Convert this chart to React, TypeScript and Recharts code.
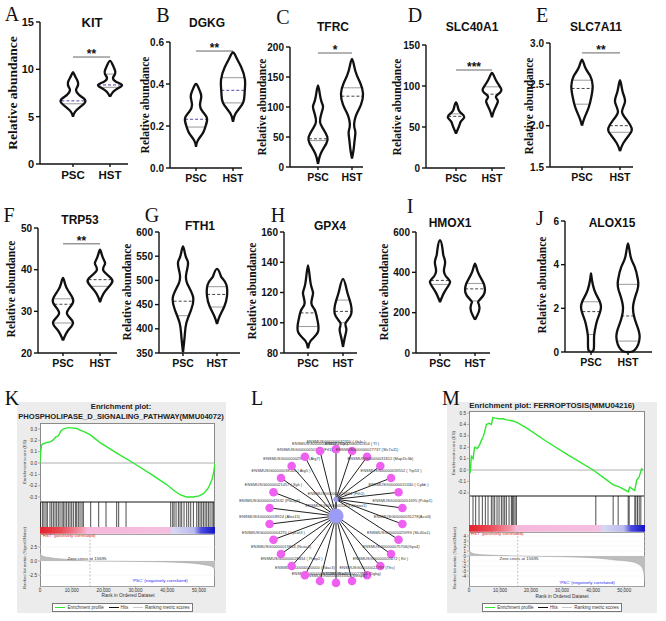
import React from "react";
import {
  ComposedChart,
  Scatter,
  XAxis,
  YAxis,
  ReferenceLine,
  ReferenceDot,
  ReferenceArea,
  LineChart,
  Line,
  AreaChart,
  Area,
  ScatterChart,
  CartesianGrid,
} from "recharts";

const SANS = "'Liberation Sans', Arial, sans-serif";
const SERIF = "'Liberation Serif', 'Times New Roman', serif";
const GROUPS = ["PSC", "HST"];

// violin outlines: [value, relative density] from bottom tip to top tip
type Pt = [number, number];

const KIT_PSC: Pt[] = [[5.0, 0], [5.5, 0.17], [6.0, 0.58], [6.5, 1], [6.9, 0.92], [7.3, 0.5], [7.8, 0.25], [8.2, 0.38], [8.6, 0.42], [9.0, 0.29], [9.4, 0.13], [9.7, 0]];
const KIT_HST: Pt[] = [[7.1, 0], [7.6, 0.25], [8.0, 0.67], [8.35, 1], [8.7, 0.5], [9.1, 0.25], [9.5, 0.42], [9.9, 0.42], [10.4, 0.25], [10.9, 0]];
const KIT_MEDIAN = [6.67, 8.35];
const KIT_QUART = [[6.36], [8.1, 9.5]];

const DGKG_PSC: Pt[] = [[0.1, 0], [0.13, 0.14], [0.165, 0.56], [0.196, 0.78], [0.235, 0.92], [0.268, 0.56], [0.3, 0.33], [0.34, 0.44], [0.372, 0.28], [0.4, 0]];
const DGKG_HST: Pt[] = [[0.22, 0], [0.26, 0.22], [0.31, 0.83], [0.36, 0.97], [0.42, 1], [0.48, 0.69], [0.52, 0.33], [0.55, 0]];
const DGKG_MEDIAN = [0.232, 0.37];
const DGKG_QUART = [[0.195], [0.31, 0.43]];

const TFRC_PSC: Pt[] = [[5, 0], [22, 0.22], [39, 0.69], [50, 0.78], [64, 0.42], [75, 0.17], [89, 0.28], [101, 0.42], [114, 0.22], [136, 0]];
const TFRC_HST: Pt[] = [[14, 0], [30, 0.14], [45, 0.22], [58, 0.28], [67, 0.19], [78, 0.22], [90, 0.42], [104, 0.75], [122, 0.92], [140, 0.69], [160, 0.28], [180, 0]];
const TFRC_MEDIAN = [47, 118];
const TFRC_QUART = [[44], [132]];

const SLC40A1_PSC: Pt[] = [[42, 0], [47, 0.14], [52, 0.28], [57, 0.42], [62, 0.69], [66, 0.5], [70, 0.25], [75, 0.14], [80, 0]];
const SLC40A1_HST: Pt[] = [[62, 0], [70, 0.17], [78, 0.42], [83, 0.47], [87, 0.33], [92, 0.67], [96, 0.78], [101, 0.58], [107, 0.33], [112, 0.17], [116, 0]];
const SLC40A1_MEDIAN = [63, 90];
const SLC40A1_QUART = [[66], [99]];

const SLC7A11_PSC: Pt[] = [[2.0, 0], [2.1, 0.22], [2.22, 0.56], [2.35, 0.78], [2.48, 0.89], [2.6, 0.69], [2.7, 0.28], [2.8, 0]];
const SLC7A11_HST: Pt[] = [[1.69, 0], [1.79, 0.28], [1.9, 0.83], [1.97, 0.97], [2.07, 0.56], [2.17, 0.17], [2.29, 0.42], [2.41, 0.22], [2.55, 0]];
const SLC7A11_MEDIAN = [2.45, 2.0];
const SLC7A11_QUART = [[2.26, 2.55], [1.92]];

const TRP53_PSC: Pt[] = [[23, 0], [25.4, 0.42], [27.4, 0.83], [29.4, 0.33], [31.4, 0.69], [33, 0.83], [35, 0.42], [36.6, 0.17], [38, 0]];
const TRP53_HST: Pt[] = [[32.2, 0], [34.2, 0.28], [36.2, 0.83], [37.8, 0.97], [39.8, 0.28], [41.4, 0.42], [43, 0.22], [44.8, 0]];
const TRP53_MEDIAN = [31.7, 37.6];
const TRP53_QUART = [[27.2, 33], [36]];

const FTH1_PSC: Pt[] = [[352, 0], [385, 0.14], [412, 0.28], [440, 0.69], [467, 0.83], [495, 0.33], [515, 0.28], [536, 0.42], [550, 0.22], [570, 0]];
const FTH1_HST: Pt[] = [[410, 0], [426, 0.22], [446, 0.61], [467, 0.83], [491, 0.78], [505, 0.42], [512, 0.28], [524, 0]];
const FTH1_MEDIAN = [457, 471];
const FTH1_QUART = [[427], [445, 487]];

const GPX4_PSC: Pt[] = [[83, 0], [88, 0.22], [94, 0.83], [102, 0.78], [108.5, 0.56], [113, 0.28], [119.5, 0.42], [126, 0.22], [138, 0]];
const GPX4_HST: Pt[] = [[84, 0], [91, 0.17], [96, 0.28], [100, 0.22], [106, 0.69], [115, 0.56], [121, 0.33], [129, 0]];
const GPX4_MEDIAN = [106.5, 107.5];
const GPX4_QUART = [[97.5], [100, 115]];

const HMOX1_PSC: Pt[] = [[253, 0], [298, 0.33], [330, 0.67], [355, 0.83], [380, 0.5], [405, 0.33], [430, 0.38], [455, 0.42], [485, 0.28], [512, 0.22], [559, 0]];
const HMOX1_HST: Pt[] = [[165, 0], [207, 0.33], [240, 0.33], [256, 0.28], [285, 0.69], [314, 0.83], [340, 0.75], [364, 0.56], [405, 0.22], [443, 0]];
const HMOX1_MEDIAN = [360, 318];
const HMOX1_QUART = [[340], [258, 345]];

const ALOX15_PSC: Pt[] = [[0, 0], [0.1, 0.22], [0.5, 0.25], [0.84, 0.28], [1.3, 0.44], [1.6, 0.61], [2.07, 0.83], [2.5, 0.56], [2.83, 0.28], [3.3, 0.08], [3.6, 0]];
const ALOX15_HST: Pt[] = [[0, 0], [0.1, 0.58], [0.69, 0.97], [1.3, 0.69], [2.07, 0.42], [2.83, 0.78], [3.3, 0.83], [3.9, 0.56], [4.36, 0.22], [4.97, 0]];
const ALOX15_MEDIAN = [1.85, 1.65];
const ALOX15_QUART = [[0.8, 2.3], [0.5, 3.1]];

// GSEA K: phospholipase D signalling
const K_ES_RANKS = [0, 200, 500, 1000, 2000, 3000, 4000, 5000, 5800, 6500, 7300, 8400, 10000, 11500, 12600, 14000, 15700, 18900, 24000, 29350, 35000, 39800, 42000, 44000, 46000, 48200, 50000, 51400, 52900, 54000, 54600, 55000];
const K_ES = [0, 0.1, 0.16, 0.17, 0.18, 0.185, 0.2, 0.23, 0.24, 0.28, 0.3, 0.31, 0.31, 0.305, 0.29, 0.275, 0.25, 0.18, 0.09, 0, -0.1, -0.19, -0.24, -0.28, -0.3, -0.3, -0.29, -0.27, -0.22, -0.15, -0.08, 0];
const K_HITS = [210, 840, 1260, 1890, 2300, 3140, 3670, 4190, 4720, 5240, 5760, 6290, 6920, 7340, 7860, 8380, 8910, 9430, 9960, 10480, 11110, 11530, 12050, 12580, 13200, 13620, 15930, 18440, 20750, 24100, 24730, 27040, 41080, 41710, 42130, 42760, 43490, 44020, 44540, 45270, 46110, 46740, 47370, 48210, 49260, 49780, 50300, 50830, 51350, 51880, 52400, 52920, 53450, 54080, 54500];
const K_METRIC_RANKS = [0, 300, 1000, 2500, 5000, 8000, 12000, 15695, 30000, 42000, 48000, 52000, 54000, 54800, 55000];
const K_METRIC = [1.6, 1.1, 0.85, 0.65, 0.45, 0.32, 0.15, 0, -0.08, -0.2, -0.4, -0.7, -1.0, -1.5, -3.5];

// GSEA M: ferroptosis
const M_ES_RANKS = [0, 400, 750, 1300, 1800, 2700, 3400, 4000, 4500, 5000, 5600, 6500, 7200, 7700, 8500, 9500, 11000, 12000, 13500, 15300, 18500, 25000, 32000, 40000, 44000, 46500, 48600, 51300, 51800, 53400, 54000, 54800, 55600, 56100];
const M_ES = [0, -0.015, 0.12, 0.1, 0.2, 0.19, 0.22, 0.26, 0.29, 0.33, 0.4, 0.41, 0.4, 0.46, 0.455, 0.45, 0.45, 0.44, 0.435, 0.42, 0.37, 0.25, 0.13, 0, -0.08, -0.13, -0.15, -0.19, -0.15, -0.18, -0.09, -0.06, 0.01, 0];
const M_HITS = [1290, 2150, 3230, 4300, 5270, 6130, 7200, 7740, 8280, 9030, 9680, 10430, 10970, 11500, 12040, 12900, 13650, 13980, 14410, 14840, 15270, 40850, 46440, 48050, 51280, 51600, 53430, 53750, 54290, 54830, 55360];
const M_METRIC_RANKS = [0, 300, 800, 2000, 6000, 11000, 15695, 30000, 42000, 47000, 52000, 55000, 56200, 56700];
const M_METRIC = [1.4, 0.9, 0.65, 0.4, 0.2, 0.08, 0, -0.15, -0.45, -0.8, -1.1, -1.8, -3.0, -5.5];

const RANK_TICKS = [0, 10000, 20000, 30000, 40000, 50000];

// network L
const RING_GENES = [
  "ENSMUSG00000032350 ( Gclc )",
  "ENSMUSG00000032554 ( Tf )",
  "ENSMUSG00000027737 (Slc7a11)",
  "ENSMUSG00000031812 (Map1lc3b)",
  "ENSMUSG00000059552 ( Trp53 )",
  "ENSMUSG00000015340 ( Cybb )",
  "ENSMUSG00000051695 (Pcbp1)",
  "ENSMUSG00000031278(Acsl4)",
  "ENSMUSG00000025993 (Slc40a1)",
  "ENSMUSG00000075706(Gpx4)",
  "ENSMUSG00000005672 ( Kit )",
  "ENSMUSG00000022797 (Tfrc)",
  "ENSMUSG00000022820 (Dgkg)",
  "ENSMUSG00000033352 (Steap3)",
  "ENSMUSG00000025283 (Sat1)",
  "ENSMUSG00000020000 (Vdac3)",
  "ENSMUSG00000028834 ( Pcbp2 )",
  "ENSMUSG00000019864 (Ncoa4)",
  "ENSMUSG00000004270 ( Lpcat3 )",
  "ENSMUSG00000018924 (Alox15)",
  "ENSMUSG00000042632 (Pla2g6)",
  "ENSMUSG00000021457 ( Syk )",
  "ENSMUSG00000038160 ( Atg5 )",
  "ENSMUSG00000029598 (Atg7)",
  "ENSMUSG00000050708 (Ftl1)",
  "ENSMUSG00000003617 ( Cp )",
];
const HUB_GENE = "ENSMUSG00000005413 (Hmox1)";
const SUB_HUB_GENE = "ENSMUSG00000024661 (Fth1)";
const SUB_HUB_LINKS = [1, 2, 3, 4, 5, 6, 7, 8];

// ---------- violins ----------
const VIOLIN_PX = 12;
const noDot = () => <g />;

function outline(shape: Pt[], center: number, half: number) {
  const left = shape.map(([v, d]) => ({ x: center - d * half, y: v }));
  const right = shape
    .slice(0, -1)
    .reverse()
    .map(([v, d]) => ({ x: center + d * half, y: v }));
  return [...left, ...right];
}

function densityAt(shape: Pt[], v: number) {
  for (let i = 1; i < shape.length; i++) {
    const [v0, d0] = shape[i - 1];
    const [v1, d1] = shape[i];
    if (v >= v0 && v <= v1) return d0 + ((d1 - d0) * (v - v0)) / (v1 - v0);
  }
  return 0;
}

function Txt({ x, y, children, size, weight = 400, family = SANS, color = "#111", rotate = false, anchor = "middle" }: any) {
  const tx = anchor === "middle" ? "-50%" : anchor === "start" ? "0" : "-100%";
  return (
    <div
      style={{
        position: "absolute",
        left: x,
        top: y,
        transform: `translate(${tx}, -50%)${rotate ? " rotate(-90deg)" : ""}`,
        fontSize: size,
        fontWeight: weight,
        fontFamily: family,
        color,
        whiteSpace: "nowrap",
        lineHeight: 1,
      }}
    >
      {children}
    </div>
  );
}

const VIOLINS = [
  { letter: "A", title: "KIT", psc: KIT_PSC, hst: KIT_HST, median: KIT_MEDIAN, quart: KIT_QUART, domain: [0, 15], ticks: [0, 5, 10, 15], dec: 0, sig: 11.3, stars: "**", medColor: "#5248a8",
    g: { axisX: 40, top: 22, bottom: 164, c1: 73, c2: 110, xEnd: 128, tx: 92, ty: 22, ts: 13, lx: 12, ly: 14, yx: 13, yy: 93, ys: 13.5, tick: 11 } },
  { letter: "B", title: "DGKG", psc: DGKG_PSC, hst: DGKG_HST, median: DGKG_MEDIAN, quart: DGKG_QUART, domain: [0, 0.6], ticks: [0, 0.2, 0.4, 0.6], dec: 1, sig: 0.557, stars: "**", medColor: "#5248a8",
    g: { axisX: 170, top: 42, bottom: 168, c1: 196, c2: 233, xEnd: 242, tx: 207, ty: 23, ts: 12, lx: 163, ly: 15, yx: 146, yy: 105, ys: 11.5, tick: 10 } },
  { letter: "C", title: "TFRC", psc: TFRC_PSC, hst: TFRC_HST, median: TFRC_MEDIAN, quart: TFRC_QUART, domain: [0, 200], ticks: [0, 50, 100, 150, 200], dec: 0, sig: 190, stars: "*", medColor: "#444",
    g: { axisX: 290, top: 47, bottom: 167, c1: 318, c2: 352, xEnd: 363, tx: 333, ty: 27, ts: 12, lx: 283, ly: 17, yx: 263, yy: 107, ys: 11.5, tick: 10 } },
  { letter: "D", title: "SLC40A1", psc: SLC40A1_PSC, hst: SLC40A1_HST, median: SLC40A1_MEDIAN, quart: SLC40A1_QUART, domain: [0, 150], ticks: [0, 50, 100, 150], dec: 0, sig: 119.5, stars: "***", medColor: "#444",
    g: { axisX: 426, top: 45, bottom: 168, c1: 456, c2: 492, xEnd: 505, tx: 472, ty: 27, ts: 12, lx: 415, ly: 15, yx: 398, yy: 107, ys: 11.5, tick: 10 } },
  { letter: "E", title: "SLC7A11", psc: SLC7A11_PSC, hst: SLC7A11_HST, median: SLC7A11_MEDIAN, quart: SLC7A11_QUART, domain: [1.5, 3], ticks: [1.5, 2, 2.5, 3], dec: 1, sig: 2.88, stars: "**", medColor: "#444",
    g: { axisX: 550, top: 43, bottom: 167, c1: 582, c2: 620, xEnd: 633, tx: 596, ty: 27, ts: 12, lx: 542, ly: 15, yx: 530, yy: 106, ys: 11.5, tick: 10 } },
  { letter: "F", title: "TRP53", psc: TRP53_PSC, hst: TRP53_HST, median: TRP53_MEDIAN, quart: TRP53_QUART, domain: [20, 50], ticks: [20, 30, 40, 50], dec: 0, sig: 46.2, stars: "**", medColor: "#444",
    g: { axisX: 38, top: 228, bottom: 353, c1: 63, c2: 100, xEnd: 117, tx: 80, ty: 220, ts: 12, lx: 9, ly: 215, yx: 12, yy: 289, ys: 11.5, tick: 10 } },
  { letter: "G", title: "FTH1", psc: FTH1_PSC, hst: FTH1_HST, median: FTH1_MEDIAN, quart: FTH1_QUART, domain: [350, 600], ticks: [350, 400, 450, 500, 550, 600], dec: 0, sig: null, stars: "", medColor: "#444",
    g: { axisX: 159, top: 232, bottom: 353, c1: 183, c2: 217, xEnd: 240, tx: 200, ty: 226, ts: 12, lx: 152, ly: 215, yx: 128, yy: 292, ys: 11.5, tick: 10 } },
  { letter: "H", title: "GPX4", psc: GPX4_PSC, hst: GPX4_HST, median: GPX4_MEDIAN, quart: GPX4_QUART, domain: [80, 160], ticks: [80, 100, 120, 140, 160], dec: 0, sig: null, stars: "", medColor: "#444",
    g: { axisX: 284, top: 232, bottom: 353, c1: 308, c2: 343, xEnd: 357, tx: 330, ty: 226, ts: 12, lx: 278, ly: 215, yx: 253, yy: 291, ys: 11.5, tick: 10 } },
  { letter: "I", title: "HMOX1", psc: HMOX1_PSC, hst: HMOX1_HST, median: HMOX1_MEDIAN, quart: HMOX1_QUART, domain: [0, 600], ticks: [0, 200, 400, 600], dec: 0, sig: null, stars: "", medColor: "#444",
    g: { axisX: 416, top: 232, bottom: 353, c1: 440, c2: 475, xEnd: 490, tx: 450, ty: 223, ts: 12, lx: 410, ly: 206, yx: 385, yy: 292, ys: 11.5, tick: 10 } },
  { letter: "J", title: "ALOX15", psc: ALOX15_PSC, hst: ALOX15_HST, median: ALOX15_MEDIAN, quart: ALOX15_QUART, domain: [0, 6], ticks: [0, 2, 4, 6], dec: 0, sig: null, stars: "", medColor: "#444",
    g: { axisX: 565, top: 221, bottom: 352, c1: 591, c2: 628, xEnd: 652, tx: 612, ty: 223, ts: 12, lx: 540, ly: 218, yx: 543, yy: 285, ys: 11.5, tick: 10 } },
];

function ViolinPanel({ p }: { p: any }) {
  const g = p.g;
  const step = g.c2 - g.c1;
  const EXT = 12; // plot room past the drawn x axis so violins are not clipped
  const xDomain = [1 - (g.c1 - g.axisX) / step, 2 + (g.xEnd + EXT - g.c2) / step];
  const xEndVal = 2 + (g.xEnd - g.c2) / step;
  const half = VIOLIN_PX / step;
  const YW = 40, MT = 8, XH = 26;
  const w = YW + (g.xEnd + EXT - g.axisX);
  const h = MT + (g.bottom - g.top) + XH;
  const shapes = [p.psc, p.hst];
  const axisStyle = { stroke: "#111", strokeWidth: 1.4 };
  const tick = { fontSize: g.tick, fontWeight: 700, fill: "#111", fontFamily: SANS };

  return (
    <>
      <div style={{ position: "absolute", left: g.axisX - YW, top: g.top - MT }}>
        <ComposedChart width={w} height={h} margin={{ top: MT, right: 0, left: 0, bottom: 0 }}>
          <XAxis
            type="number"
            dataKey="x"
            domain={xDomain}
            ticks={[1, 2]}
            interval={0}
            tickFormatter={(v: number) => GROUPS[v - 1]}
            height={XH}
            axisLine={false}
            tickLine={axisStyle}
            tickSize={3}
            tickMargin={4}
            tick={{ ...tick, fontSize: g.tick + 0.5 }}
          />
          <YAxis
            type="number"
            dataKey="y"
            domain={p.domain}
            ticks={p.ticks}
            interval={0}
            tickFormatter={(v: number) => v.toFixed(p.dec)}
            width={YW}
            axisLine={axisStyle}
            tickLine={axisStyle}
            tickSize={4}
            tickMargin={2}
            tick={tick}
          />
          <ReferenceLine
            segment={[{ x: xDomain[0], y: p.domain[0] }, { x: xEndVal, y: p.domain[0] }]}
            stroke="#111"
            strokeWidth={1.4}
          />
          {shapes.map((s: Pt[], i: number) => (
            <Scatter
              key={`v${i}`}
              data={outline(s, i + 1, half)}
              fill="#111"
              line={{ stroke: "#111", strokeWidth: 2.3 }}
              lineJointType="natural"
              shape={noDot}
              isAnimationActive={false}
            />
          ))}
          {shapes.map((s: Pt[], i: number) =>
            p.quart[i].map((q: number, j: number) => {
              const hw = densityAt(s, q) * half;
              return (
                <ReferenceLine
                  key={`q${i}-${j}`}
                  segment={[{ x: i + 1 - hw, y: q }, { x: i + 1 + hw, y: q }]}
                  stroke="#9a9a9a"
                  strokeWidth={1}
                />
              );
            })
          )}
          {shapes.map((s: Pt[], i: number) => {
            const q = p.median[i];
            const hw = densityAt(s, q) * half;
            return (
              <ReferenceLine
                key={`m${i}`}
                segment={[{ x: i + 1 - hw, y: q }, { x: i + 1 + hw, y: q }]}
                stroke={p.medColor}
                strokeWidth={1}
                strokeDasharray="3 2"
              />
            );
          })}
          {p.sig != null && (
            <ReferenceLine segment={[{ x: 1, y: p.sig }, { x: 2, y: p.sig }]} stroke="#666" strokeWidth={1} />
          )}
          {p.sig != null && (
            <ReferenceDot
              x={1.5}
              y={p.sig}
              r={0}
              fill="none"
              stroke="none"
              label={{ value: p.stars, position: "top", offset: -1, fontSize: 12, fontWeight: 700, fill: "#111", fontFamily: SANS }}
            />
          )}
        </ComposedChart>
      </div>
      <Txt x={g.tx} y={g.ty} size={g.ts} weight={700}>{p.title}</Txt>
      <Txt x={g.lx} y={g.ly} size={20} family={SERIF}>{p.letter}</Txt>
      <Txt x={g.yx} y={g.yy} size={g.ys} weight={700} family={SERIF} rotate>Relative abundance</Txt>
    </>
  );
}

// ---------- GSEA ----------
const K_SPEC = {
  id: "k", letter: "K", lx: 12, ly: 398,
  bg: { left: 17, top: 402, width: 209, height: 211 },
  title: ["Enrichment plot:", "PHOSPHOLIPASE_D_SIGNALING_PATHWAY(MMU04072)"], titleX: 121, titleY: [407, 417], titleSize: 7.6,
  box: { left: 40, right: 215, esTop: 423, esBottom: 502, barTop: 527, hitsBottom: 534, metricBottom: 587 },
  xMax: 55000,
  esRanks: K_ES_RANKS, es: K_ES, esDomain: [-0.344, 0.353], esTicks: [-0.3, -0.2, -0.1, 0, 0.1, 0.2, 0.3],
  hits: K_HITS,
  metricRanks: K_METRIC_RANKS, metric: K_METRIC, metricDomain: [-4.64, 4.82], metricTicks: [-2.5, 0, 2.5], metricDec: 1,
  esLabel: { x: 25, y: 462 }, metricLabel: { x: 25, y: 558 },
  pos: { x: 42, y: 536 }, zero: { x: 87, y: 559 }, neg: { x: 160, y: 581 },
  xTitle: { x: 128, y: 596 }, legend: { left: 52, top: 603, width: 141 },
};

const M_SPEC = {
  id: "m", letter: "M", lx: 451, ly: 398,
  bg: { left: 447, top: 402, width: 210, height: 211 },
  title: ["Enrichment plot: FERROPTOSIS(MMU04216)"], titleX: 552, titleY: [406], titleSize: 7.8,
  box: { left: 469, right: 645, esTop: 411, esBottom: 496, barTop: 525, hitsBottom: 532, metricBottom: 587 },
  xMax: 56700,
  esRanks: M_ES_RANKS, es: M_ES, esDomain: [-0.228, 0.518], esTicks: [-0.2, -0.1, 0, 0.1, 0.2, 0.3, 0.4, 0.5],
  hits: M_HITS,
  metricRanks: M_METRIC_RANKS, metric: M_METRIC, metricDomain: [-6.2, 4.8], metricTicks: [-4, -3, -2, -1, 0, 1, 2, 3, 4], metricDec: 0,
  esLabel: { x: 454, y: 453 }, metricLabel: { x: 455, y: 558 },
  pos: { x: 470, y: 534 }, zero: { x: 519, y: 559 }, neg: { x: 587, y: 583 },
  xTitle: { x: 562, y: 597 }, legend: { left: 482, top: 603, width: 140 },
};

function GseaPanel({ g }: { g: any }) {
  const b = g.box;
  const boxW = b.right - b.left;
  const YW = 16, MT = 4, MR = 4, XH = 9;
  const esData = g.esRanks.map((r: number, i: number) => ({ rank: r, es: g.es[i] }));
  const metricData = g.metricRanks.map((r: number, i: number) => ({ rank: r, metric: g.metric[i] }));
  const small = { fontSize: 4.6, fill: "#333", fontFamily: SANS };
  const tl = { stroke: "#777", strokeWidth: 0.5 };
  const hitsH = b.hitsBottom - b.esBottom;
  const barFrac = (b.hitsBottom - b.barTop) / hitsH;
  const frame = (top: number, bottom: number) => (
    <div style={{ position: "absolute", left: b.left, top, width: boxW, height: bottom - top, background: "#fff", border: "0.6px solid #8a8a8a", boxSizing: "border-box" }} />
  );

  return (
    <>
      <div style={{ position: "absolute", ...g.bg, background: "#ececec" }} />
      {frame(b.esTop, b.esBottom)}
      {frame(b.esBottom, b.hitsBottom)}
      {frame(b.hitsBottom, b.metricBottom)}

      <div style={{ position: "absolute", left: b.left - YW, top: b.esTop - MT }}>
        <LineChart width={YW + boxW + MR} height={b.esBottom - b.esTop + 2 * MT} data={esData} margin={{ top: MT, right: MR, left: 0, bottom: MT }}>
          <XAxis hide type="number" dataKey="rank" domain={[0, g.xMax]} allowDataOverflow />
          <YAxis type="number" domain={g.esDomain} allowDataOverflow ticks={g.esTicks} interval={0} width={YW} axisLine={false} tickLine={tl} tickSize={2} tickMargin={1} tick={small} tickFormatter={(v: number) => v.toFixed(1)} />
          <ReferenceLine y={0} stroke="#9a9a9a" strokeWidth={0.8} />
          <Line type="linear" dataKey="es" stroke="#2ee82e" strokeWidth={1.4} dot={false} isAnimationActive={false} />
        </LineChart>
      </div>

      <div style={{ position: "absolute", left: b.left, top: b.esBottom - MT }}>
        <ComposedChart width={boxW + MR} height={hitsH + 2 * MT} data={[{ x: 0, y: 0 }, { x: g.xMax, y: 1 }]} margin={{ top: MT, right: MR, left: 0, bottom: MT }}>
          <defs>
            <linearGradient id={`bar-${g.id}`} x1="0" y1="0" x2="1" y2="0">
              <stop offset="0%" stopColor="#e3232d" />
              <stop offset="12%" stopColor="#ea4a55" />
              <stop offset="24%" stopColor="#f29aae" />
              <stop offset="27%" stopColor="#f6b8da" />
              <stop offset="74%" stopColor="#f5bfe0" />
              <stop offset="76%" stopColor="#d8d8f4" />
              <stop offset="88%" stopColor="#b9b9ee" />
              <stop offset="92%" stopColor="#4d4de0" />
              <stop offset="100%" stopColor="#1212c4" />
            </linearGradient>
          </defs>
          <XAxis hide type="number" dataKey="x" domain={[0, g.xMax]} allowDataOverflow />
          <YAxis hide type="number" dataKey="y" domain={[0, 1]} allowDataOverflow />
          <ReferenceArea x1={0} x2={g.xMax} y1={0} y2={barFrac} fill={`url(#bar-${g.id})`} fillOpacity={1} stroke="none" />
          {g.hits.map((r: number) => (
            <ReferenceLine key={r} segment={[{ x: r, y: barFrac }, { x: r, y: 1 }]} stroke="#000" strokeWidth={0.7} />
          ))}
        </ComposedChart>
      </div>

      <div style={{ position: "absolute", left: b.left - YW, top: b.hitsBottom - MT }}>
        <AreaChart width={YW + boxW + MR} height={b.metricBottom - b.hitsBottom + MT + XH} data={metricData} margin={{ top: MT, right: MR, left: 0, bottom: 0 }}>
          <CartesianGrid horizontal vertical={false} stroke="#ededed" strokeWidth={0.5} />
          <XAxis type="number" dataKey="rank" domain={[0, g.xMax]} allowDataOverflow ticks={RANK_TICKS} interval={0} height={XH} axisLine={false} tickLine={tl} tickSize={1.5} tickMargin={0.5} tick={small} tickFormatter={(v: number) => v.toLocaleString("en-US")} />
          <YAxis type="number" domain={g.metricDomain} allowDataOverflow ticks={g.metricTicks} interval={0} width={YW} axisLine={false} tickLine={tl} tickSize={2} tickMargin={1} tick={small} tickFormatter={(v: number) => v.toFixed(g.metricDec)} />
          <Area type="monotone" dataKey="metric" stroke="#9c9c9c" strokeWidth={0.5} fill="#bdbdbd" fillOpacity={1} isAnimationActive={false} />
          <ReferenceLine x={15695} stroke="#9a9a9a" strokeWidth={0.6} strokeDasharray="2 1.5" />
        </AreaChart>
      </div>

      <Txt x={g.lx} y={g.ly} size={20} family={SERIF}>{g.letter}</Txt>
      {g.title.map((t: string, i: number) => (
        <Txt key={i} x={g.titleX} y={g.titleY[i]} size={g.titleSize} weight={700} color="#222">{t}</Txt>
      ))}
      <Txt x={g.esLabel.x} y={g.esLabel.y} size={4.4} color="#444" rotate>Enrichment score (ES)</Txt>
      <Txt x={g.metricLabel.x} y={g.metricLabel.y} size={4.2} color="#444" rotate>Ranked list metric (Signal2Noise)</Txt>
      <Txt x={g.pos.x} y={g.pos.y} size={4.4} color="#e02020" anchor="start">'HST' (positively correlated)</Txt>
      <Txt x={g.zero.x} y={g.zero.y} size={4.4} color="#333">Zero cross at 15695</Txt>
      <Txt x={g.neg.x} y={g.neg.y} size={4.4} color="#2a2af0">'PSC' (negatively correlated)</Txt>
      <Txt x={g.xTitle.x} y={g.xTitle.y} size={4.8} color="#333">Rank in Ordered Dataset</Txt>
      <div
        style={{
          position: "absolute",
          left: g.legend.left,
          top: g.legend.top,
          width: g.legend.width,
          height: 9,
          background: "#fff",
          border: "0.6px solid #777",
          boxSizing: "border-box",
          display: "flex",
          alignItems: "center",
          justifyContent: "space-around",
          fontSize: 4.5,
          fontFamily: SANS,
          color: "#333",
          whiteSpace: "nowrap",
        }}
      >
        {[
          ["#2ee82e", "Enrichment profile"],
          ["#111", "Hits"],
          ["#c8c8c8", "Ranking metric scores"],
        ].map(([c, t]) => (
          <span key={t} style={{ display: "flex", alignItems: "center" }}>
            <span style={{ display: "inline-block", width: 10, height: 1.2, background: c, marginRight: 2 }} />
            {t}
          </span>
        ))}
      </div>
    </>
  );
}

// ---------- network ----------
const NODE_STYLE: any = {
  ring: { r: 4.3, fill: "#f060f0" },
  hub: { r: 7.6, fill: "#9c9cf7" },
  sub: { r: 2.6, fill: "#9c9cf7" },
};

function NodeShape(props: any) {
  const { cx, cy, payload } = props;
  const st = NODE_STYLE[payload.kind];
  return (
    <g>
      <circle cx={cx} cy={cy} r={st.r} fill={st.fill} />
      <text x={cx} y={cy - st.r - 1.5} textAnchor="middle" fontSize={4} fill="#333" fontFamily={SANS}>
        {payload.label}
      </text>
    </g>
  );
}

function NetworkPanel() {
  const n = RING_GENES.length;
  const ring = RING_GENES.map((label, i) => {
    const a = (i * 2 * Math.PI) / n;
    return { x: Math.sin(a), y: Math.cos(a), label, kind: "ring" };
  });
  const hub = { x: 0, y: 0, label: HUB_GENE, kind: "hub" };
  const sub = { x: 0, y: 0.25, label: SUB_HUB_GENE, kind: "sub" };
  const edges = ring.map((node, i) => [node, SUB_HUB_LINKS.includes(i) ? sub : hub]);
  edges.push([sub, hub]);
  const D = [-1.6, 1.6];
  return (
    <>
      <div style={{ position: "absolute", left: 229, top: 409 }}>
        <ScatterChart width={214} height={214} margin={{ top: 0, right: 0, left: 0, bottom: 0 }}>
          <XAxis hide type="number" dataKey="x" domain={D} />
          <YAxis hide type="number" dataKey="y" domain={D} />
          {edges.map((e, i) => (
            <Scatter key={`e${i}`} data={e} fill="#222" line={{ stroke: "#222", strokeWidth: 1 }} shape={noDot} isAnimationActive={false} />
          ))}
          <Scatter data={[...ring, sub, hub]} shape={NodeShape} isAnimationActive={false} />
        </ScatterChart>
      </div>
      <Txt x={257} y={398} size={20} family={SERIF}>L</Txt>
    </>
  );
}

export default function App() {
  return (
    <div style={{ position: "absolute", left: 0, top: 0, width: 666, height: 621, background: "#fff", overflow: "hidden", fontFamily: SANS }}>
      {VIOLINS.map((p) => (
        <ViolinPanel key={p.letter} p={p} />
      ))}
      <GseaPanel g={K_SPEC} />
      <NetworkPanel />
      <GseaPanel g={M_SPEC} />
    </div>
  );
}
